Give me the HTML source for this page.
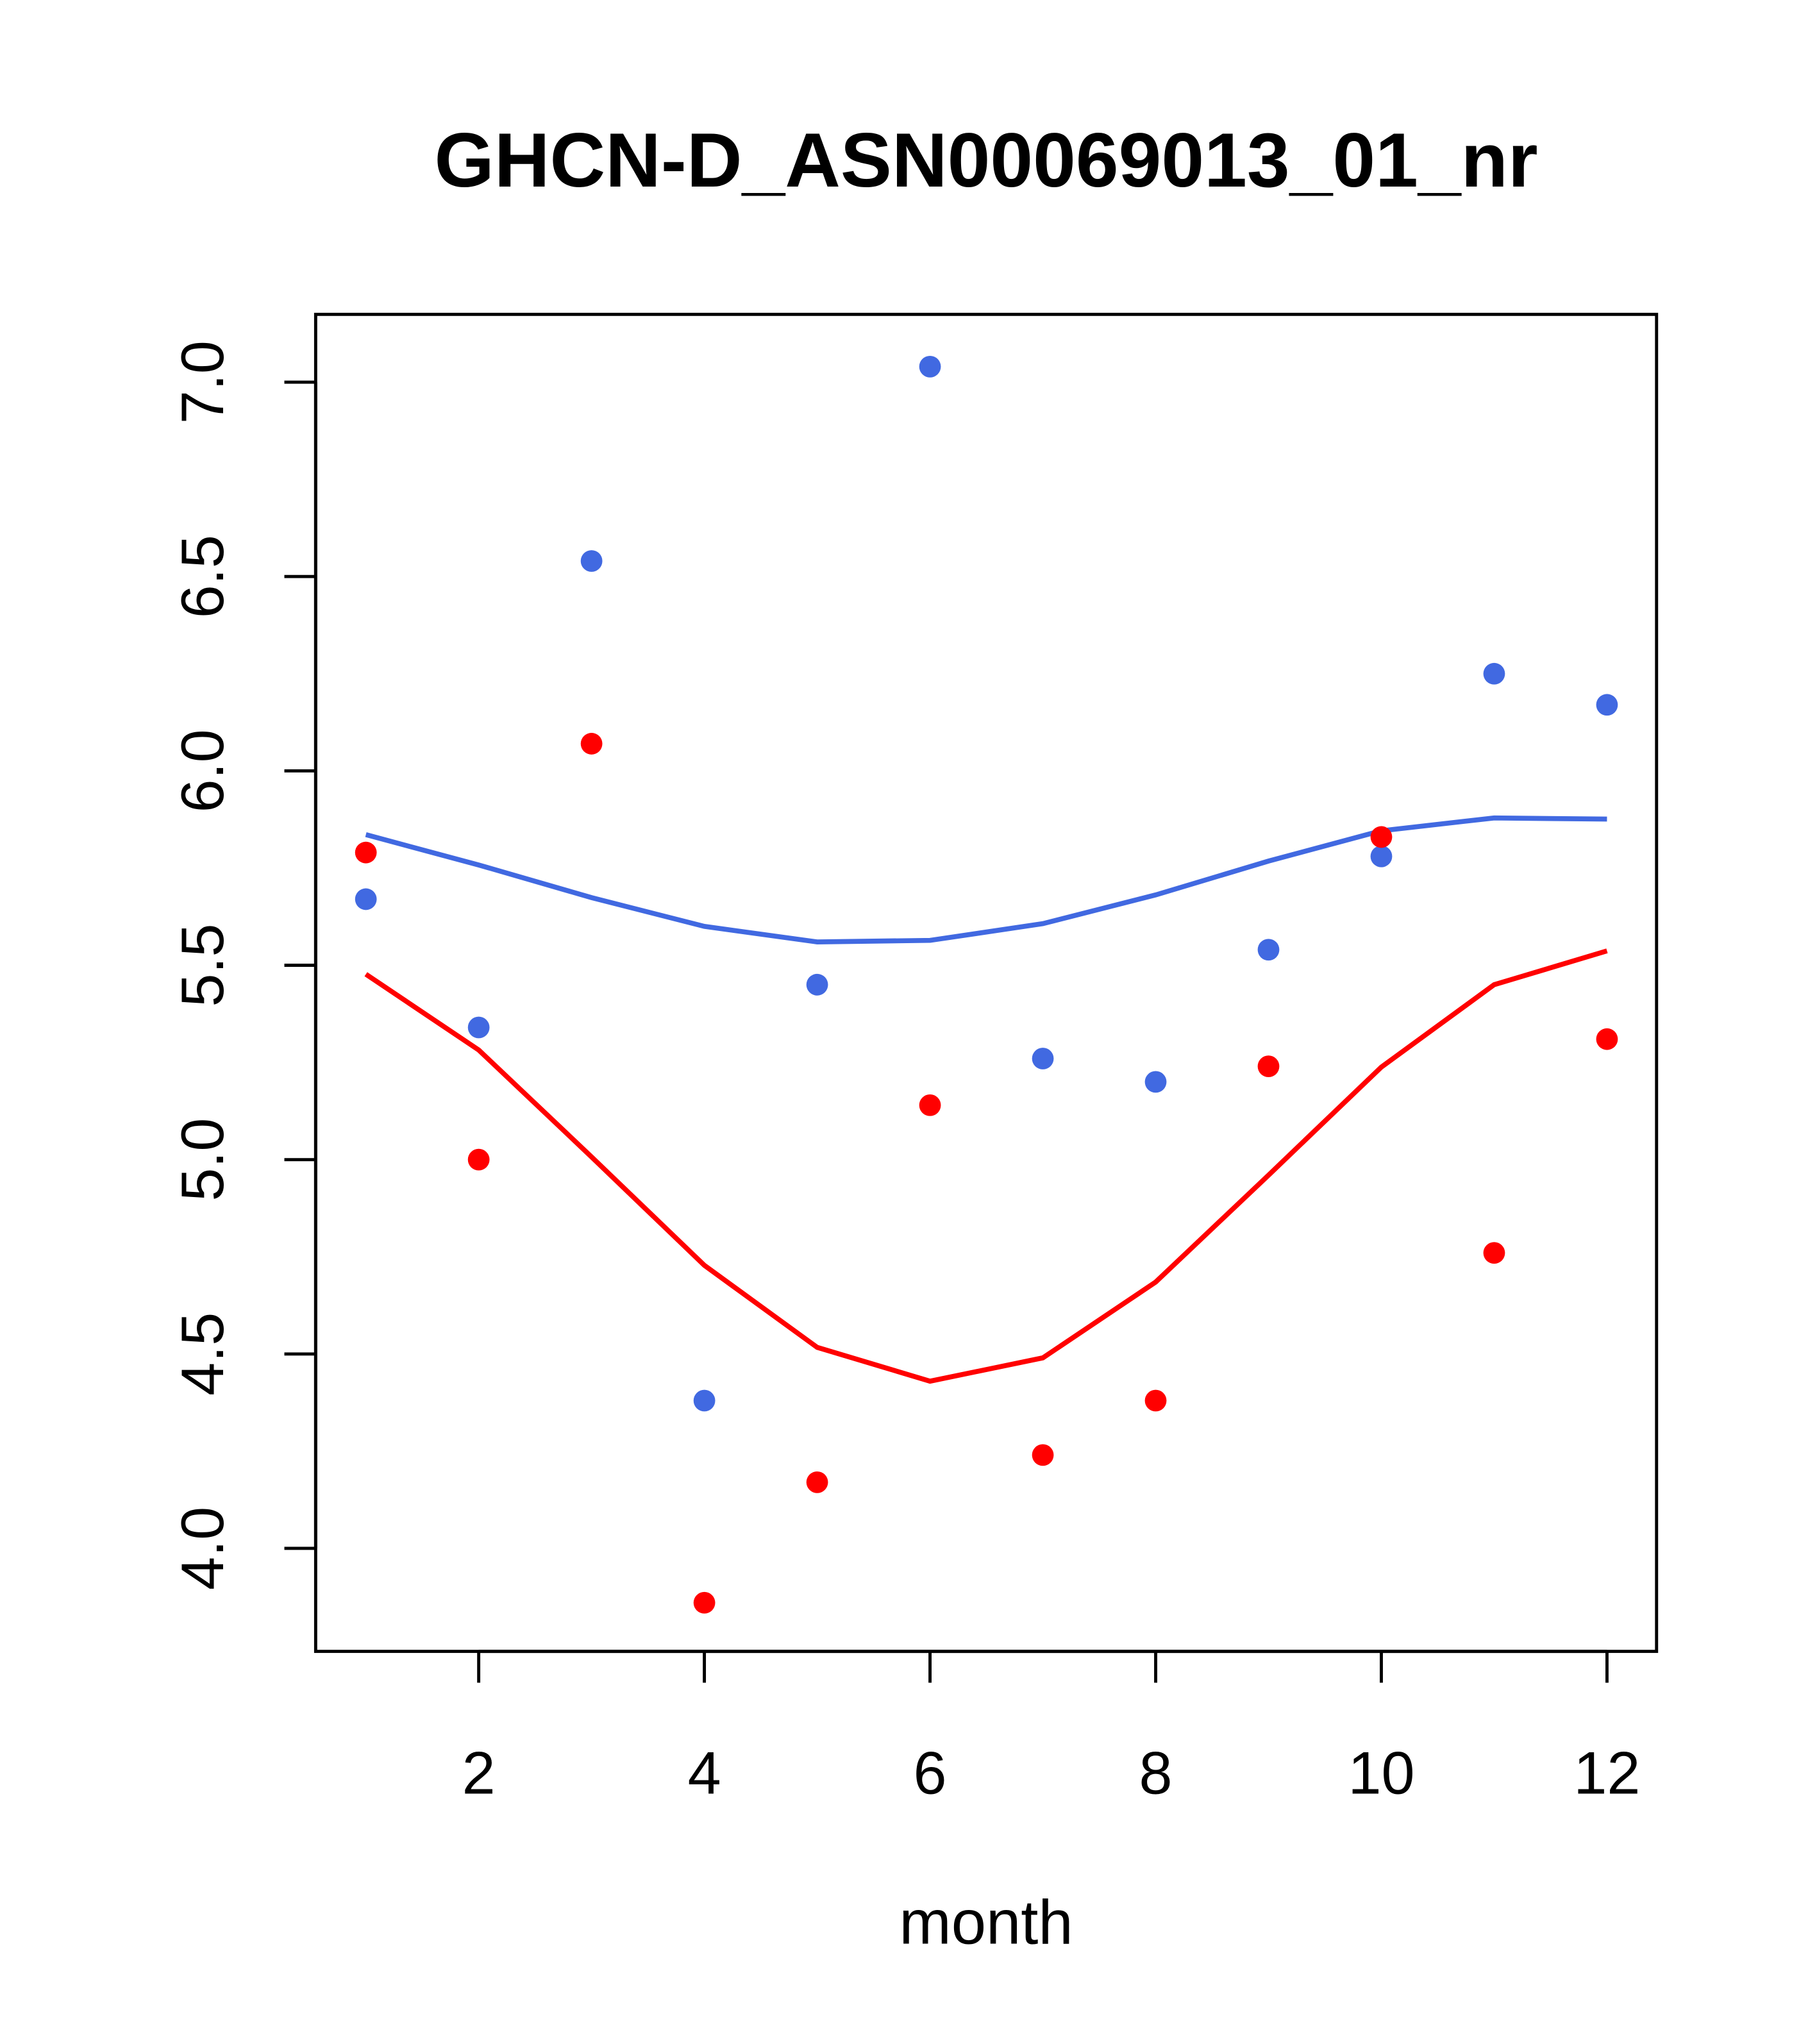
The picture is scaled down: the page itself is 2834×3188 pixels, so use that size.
<!DOCTYPE html>
<html><head><meta charset="utf-8"><style>
html,body{margin:0;padding:0;background:#fff;}
svg{display:block;}
text{font-family:"Liberation Sans",Arial,sans-serif;fill:#000;}
</style></head><body>
<svg id="chart" width="2834" height="3188" viewBox="0 0 1393 1567" xmlns="http://www.w3.org/2000/svg">
<text x="756" y="143" font-size="59" font-weight="bold" text-anchor="middle">GHCN-D_ASN00069013_01_nr</text>
<rect x="242" y="241" width="1028" height="1025" fill="none" stroke="#000" stroke-width="2.4"/>
<g id="xaxis"></g>
<g id="yaxis"></g>
<text x="756" y="1490" font-size="48" text-anchor="middle">month</text>
<g id="series"></g>
</svg>
<script>
const months=[1,2,3,4,5,6,7,8,9,10,11,12];
const bluePoints=[5.67,5.34,6.54,4.38,5.45,7.04,5.26,5.20,5.54,5.78,6.25,6.17];
const redPoints=[5.79,5.00,6.07,3.86,4.17,5.14,4.24,4.38,5.24,5.83,4.76,5.31];
const blueLine=[5.836,5.758,5.674,5.60,5.56,5.564,5.607,5.681,5.768,5.846,5.879,5.876];
const redLine=[5.477,5.282,5.007,4.728,4.517,4.430,4.490,4.685,4.960,5.238,5.450,5.537];
const xTicks=[2,4,6,8,10,12];
const yTicks=[4.0,4.5,5.0,5.5,6.0,6.5,7.0];

const NS="http://www.w3.org/2000/svg";
function X(v){return 367+(v-2)*86.5;}
function Y(v){return 1187-(v-4)*298;}
function mk(tag,attrs,parent){const e=document.createElementNS(NS,tag);for(const k in attrs)e.setAttribute(k,attrs[k]);parent.appendChild(e);return e;}
const xa=document.getElementById('xaxis'),ya=document.getElementById('yaxis'),se=document.getElementById('series');
mk('line',{x1:X(2),x2:X(12),y1:1266,y2:1266,stroke:'#000','stroke-width':2.4},xa);
xTicks.forEach(t=>{
  const l=mk('line',{x1:X(t),x2:X(t),y1:1266,y2:1290,stroke:'#000','stroke-width':2.4},xa);
  
  
  const tx=mk('text',{x:X(t),y:1375,'font-size':46,'text-anchor':'middle'},xa);
  tx.textContent=String(t);
  
  
});
mk('line',{x1:242,x2:242,y1:Y(4),y2:Y(7),stroke:'#000','stroke-width':2.4},ya);
yTicks.forEach(t=>{
  const l=mk('line',{x1:218,x2:242,y1:Y(t),y2:Y(t),stroke:'#000','stroke-width':2.4},ya);
  
  
  const tx=mk('text',{x:0,y:0,'font-size':46,'text-anchor':'middle',transform:`translate(171,${Y(t)}) rotate(-90)`},ya);
  tx.textContent=t.toFixed(1);
  
  
});
function line(vals,color,name){
  const p=mk('polyline',{points:vals.map((v,i)=>X(months[i])+','+Y(v)).join(' '),fill:'none',stroke:color,'stroke-width':3.8},se);
  
  
}
function pts(vals,color,name){
  vals.forEach((v,i)=>{
    const c=mk('circle',{cx:X(months[i]),cy:Y(v),r:8.3,fill:color},se);
    
    
  });
}
line(blueLine,'#4169E1','blue-line');
line(redLine,'#FF0000','red-line');
pts(bluePoints,'#4169E1','blue-point');
pts(redPoints,'#FF0000','red-point');
</script>
</body></html>
